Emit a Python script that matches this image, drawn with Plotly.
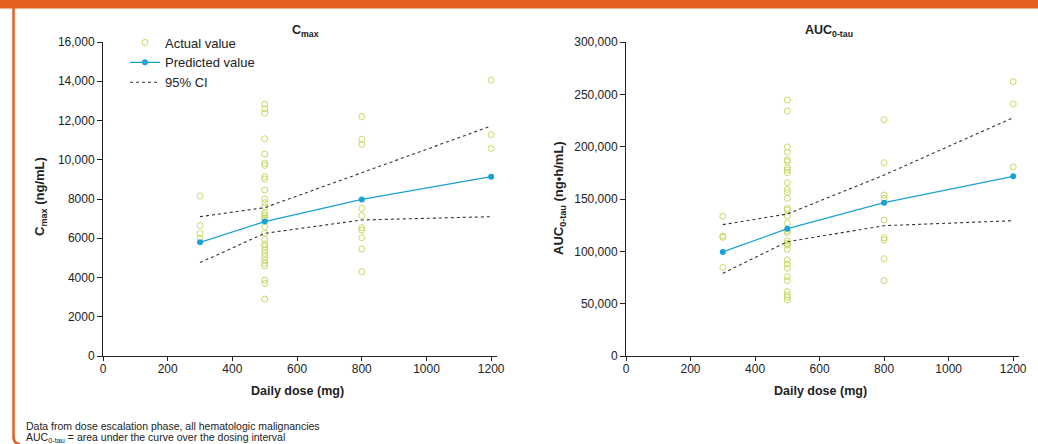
import plotly.graph_objects as go

W, H = 1038, 444

# ---------------- data ----------------
doses = [300, 500, 800, 1200]

cmax_dose_300 = [8150, 6650, 6250, 6000]
cmax_dose_500 = [12830, 12600, 12380, 11070, 10290, 9820, 9710, 9140, 9020, 8460, 8000,
                 7810, 7610, 7300, 7190, 7080, 6960, 6590, 6250, 5940, 5710, 5570, 5400,
                 5230, 5060, 4890, 4720, 4590, 3870, 3700, 2900]
cmax_dose_800 = [12200, 11040, 10790, 7520, 7150, 6540, 6420, 6030, 5450, 4300]
cmax_dose_1200 = [14060, 11280, 10580]
cmax_pred = [5790, 6850, 7980, 9140]
cmax_upper = [7100, 7560, 9340, 11720]
cmax_lower = [4760, 6250, 6930, 7100]

auc_dose_300 = [133500, 114600, 113400, 84700]
auc_dose_500 = [244600, 234100, 199700, 194600, 187300, 185700, 179900, 177700, 175100,
                165600, 159200, 156400, 150700, 141100, 139500, 133800, 126800, 119700,
                117800, 109900, 107600, 106100, 101900, 91700, 87900, 83800, 75800, 72000,
                61500, 58300, 56100, 53500]
auc_dose_800 = [225800, 184700, 153800, 150600, 129900, 113000, 110800, 93000, 72000]
auc_dose_1200 = [262100, 240800, 180600]
auc_pred = [99400, 121600, 146500, 171700]
auc_upper = [125500, 135700, 172900, 227700]
auc_lower = [79000, 109200, 124500, 129300]

cmax_ticks = [0, 2000, 4000, 6000, 8000, 10000, 12000, 14000, 16000]
cmax_ticktext = ["0", "2000", "4000", "6000", "8000", "10,000", "12,000", "14,000", "16,000"]
auc_ticks = [0, 50000, 100000, 150000, 200000, 250000, 300000]
auc_ticktext = ["0", "50,000", "100,000", "150,000", "200,000", "250,000", "300,000"]
x_ticks = [0, 200, 400, 600, 800, 1000, 1200]

footnote_1 = "Data from dose escalation phase, all hematologic malignancies"
footnote_2 = "AUC<sub>0-tau</sub> = area under the curve over the dosing interval"

# ---------------- styling ----------------
ACT = "#cad965"
PRED = "#1ba1d4"
CI = "#333333"
ORANGE = "#e5601f"
FONT = "Liberation Sans, Arial, sans-serif"


def px_x(p):
    return p / W


def px_y(p):
    return 1 - p / H


def flat(groups):
    xs, ys = [], []
    for d, vals in zip(doses, groups):
        xs += [d] * len(vals)
        ys += vals
    return xs, ys


fig = go.Figure()

panels = [
    ("x", "y", [cmax_dose_300, cmax_dose_500, cmax_dose_800, cmax_dose_1200],
     cmax_pred, cmax_upper, cmax_lower, True),
    ("x2", "y2", [auc_dose_300, auc_dose_500, auc_dose_800, auc_dose_1200],
     auc_pred, auc_upper, auc_lower, False),
]

for xa, ya, groups, pred, up, lo, show in panels:
    ax, ay = flat(groups)
    fig.add_trace(go.Scatter(x=ax, y=ay, mode="markers", xaxis=xa, yaxis=ya,
                             name="Actual value", showlegend=show,
                             marker=dict(symbol="circle-open", size=6,
                                         color=ACT, line=dict(width=1, color=ACT))))
    fig.add_trace(go.Scatter(x=doses, y=pred, mode="lines+markers", xaxis=xa, yaxis=ya,
                             name="Predicted value", showlegend=show,
                             line=dict(color=PRED, width=1.3),
                             marker=dict(size=6, color=PRED)))
    fig.add_trace(go.Scatter(x=doses, y=up, mode="lines", xaxis=xa, yaxis=ya,
                             name="95% CI", showlegend=show, legendgroup="ci",
                             line=dict(color=CI, width=1.1, dash="dot")))
    fig.add_trace(go.Scatter(x=doses, y=lo, mode="lines", xaxis=xa, yaxis=ya,
                             name="95% CI", showlegend=False, legendgroup="ci",
                             line=dict(color=CI, width=1.1, dash="dot")))

ydom = [px_y(356), px_y(42)]
base_axis = dict(showline=True, linecolor="#222", linewidth=1, ticks="outside",
                 tickcolor="#222", showgrid=False, zeroline=False, automargin=False,
                 tickfont=dict(family=FONT, size=12, color="#222"))
x_axis_style = dict(base_axis, ticklen=4, ticklabelstandoff=-2)
y_axis_style = dict(base_axis, ticklen=5)

fig.update_layout(
    template="none",
    width=W, height=H,
    margin=dict(l=0, r=0, t=0, b=0, pad=0, autoexpand=False),
    paper_bgcolor="white", plot_bgcolor="white",
    font=dict(family=FONT, color="#222"),
    showlegend=True,
    legend=dict(x=px_x(125), y=px_y(27.5), xanchor="left", yanchor="top",
                bgcolor="rgba(0,0,0,0)", borderwidth=0,
                font=dict(family=FONT, size=13, color="#222"),
                tracegroupgap=0, itemwidth=30),
    xaxis=dict(domain=[px_x(103), px_x(497)], range=[0, 1218], tickvals=x_ticks,
               anchor="y", **x_axis_style),
    yaxis=dict(domain=ydom, range=[0, 16000], tickvals=cmax_ticks, ticktext=cmax_ticktext,
               anchor="x", **y_axis_style),
    xaxis2=dict(domain=[px_x(626), px_x(1019)], range=[0, 1218], tickvals=x_ticks,
                anchor="y2", **x_axis_style),
    yaxis2=dict(domain=ydom, range=[0, 300000], tickvals=auc_ticks, ticktext=auc_ticktext,
                anchor="x2", **y_axis_style),
)


def label(text, x, y, angle=0, size=12.5, xanchor="center"):
    return dict(text=text, x=px_x(x), y=px_y(y), xref="paper", yref="paper",
                xanchor=xanchor, yanchor="middle", showarrow=False, textangle=angle,
                font=dict(size=size, family=FONT, color="#222"))


ann = [
    label("<b>C<sub>max</sub></b>", 305, 31),
    label("<b>AUC<sub>0-tau</sub></b>", 829, 31),
    label("<b>Daily dose (mg)</b>", 297, 391),
    label("<b>Daily dose (mg)</b>", 820, 391),
    label("<b>C<sub>max</sub> (ng/mL)</b>", 40, 197, -90, 13),
    label("<b>AUC<sub>0-tau</sub> (ng•h/mL)</b>", 559, 198, -90, 13),
    label(footnote_1, 24, 426, 0, 10.5, "left"),
    label(footnote_2, 24, 437.5, 0, 10.5, "left"),
]
fig.update_layout(annotations=ann)

fig.update_layout(shapes=[
    dict(type="rect", xref="paper", yref="paper", x0=0, x1=1, y0=px_y(8.5), y1=1,
         fillcolor=ORANGE, line=dict(width=0), layer="above"),
    dict(type="path", xref="paper", yref="paper",
         path=f"M {px_x(13.5)} {px_y(8)} L {px_x(13.5)} {px_y(436)} Q {px_x(13.5)} {px_y(444)} {px_x(20)} {px_y(444)}",
         line=dict(color=ORANGE, width=2.5)),
])

fig.write_html(
    "out.html",
    config={"displayModeBar": False},
    post_script="document.body.style.margin='0';document.body.style.padding='0';"
                "document.documentElement.style.overflow='hidden';"
                "document.body.style.overflow='hidden';",
)
